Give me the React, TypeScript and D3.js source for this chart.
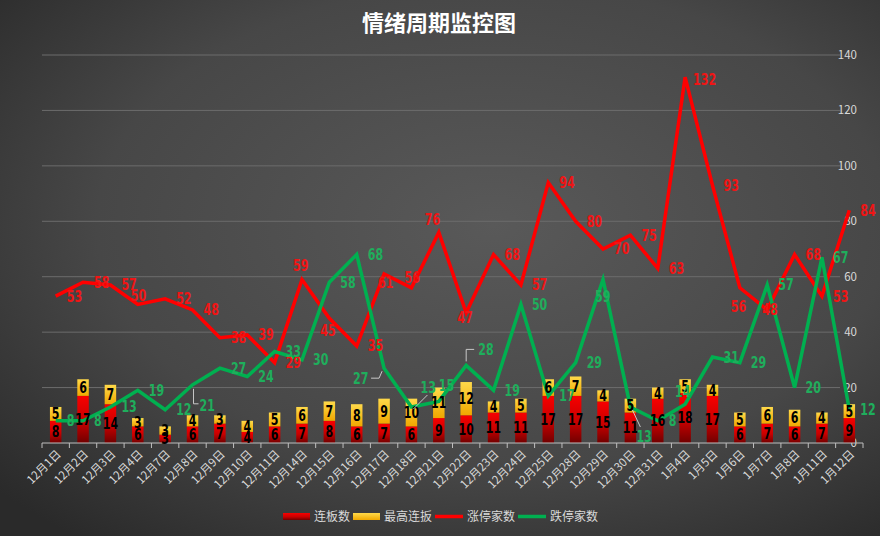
import * as d3 from "d3";

// 日期
const dates = [
  "12月1日", "12月2日", "12月3日", "12月4日", "12月7日", "12月8日", "12月9日", "12月10日",
  "12月11日", "12月14日", "12月15日", "12月16日", "12月17日", "12月18日", "12月21日", "12月22日",
  "12月23日", "12月24日", "12月25日", "12月28日", "12月29日", "12月30日", "12月31日",
  "1月4日", "1月5日", "1月6日", "1月7日", "1月8日", "1月11日", "1月12日",
];
// 连板数 / 最高连板 (stacked bars)
const lianban = [8, 17, 14, 6, 3, 6, 7, 4, 6, 7, 8, 6, 7, 6, 9, 10, 11, 11, 17, 17, 15, 11, 16, 18, 17, 6, 7, 6, 7, 9];
const zuigao = [5, 6, 7, 3, 3, 4, 3, 4, 5, 6, 7, 8, 9, 10, 11, 12, 4, 5, 6, 7, 4, 5, 4, 5, 4, 5, 6, 6, 4, 5];
// 涨停家数 / 跌停家数 (lines)
const zhangting = [53, 58, 57, 50, 52, 48, 38, 39, 29, 59, 45, 35, 61, 56, 76, 47, 68, 57, 94, 80, 70, 75, 63, 132, 93, 56, 48, 68, 53, 84];
const dieting = [8, 8, 13, 19, 12, 21, 27, 24, 33, 30, 58, 68, 27, 13, 15, 28, 19, 50, 17, 29, 59, 13, 8, 14, 31, 29, 57, 20, 67, 12];
const yTicks = [0, 20, 40, 60, 80, 100, 120, 140];

const width = 880;
const height = 536;
const left = 42;
const right = 863;
const bottom = 443;
const top = 55;

// label nudges (dx, dy from the point, start anchored)
const redNudge: Record<number, [number, number]> = {
  3: [-7, -9], 9: [-9, -14], 10: [-9, 12], 12: [-6, 9], 13: [-7, -10],
  14: [-14, -13], 15: [-9, 5], 23: [8, 2], 25: [-9, 19], 26: [-5, 0],
};
const greenNudge: Record<number, [number, number]> = {
  5: [7, 21], 12: [-31, 10], 13: [9, -19], 14: [0, -16], 15: [12, -16],
  20: [-8, 17], 21: [6, 30], 23: [-10, -13],
};
// leader lines, relative to the point
const greenLeader: Record<number, [number, number][]> = {
  5: [[1, 4], [1, 19], [6, 19]],
  12: [[-2, 3], [-5, 10], [-13, 10]],
  13: [[2, 2], [16, -12]],
  15: [[0, -4], [0, -16], [8, -16]],
  21: [[2, 3], [10, 20]],
};

const numFont = '"Liberation Sans Narrow", "DejaVu Sans Condensed", "Liberation Sans", Arial, sans-serif';
const cjkFont = '"Noto Sans CJK SC", "Noto Sans", sans-serif';

// 细长数字
const Num = ({x, y, fill, anchor, children}: {x: number; y: number; fill: string; anchor: string; children: number}) => (
  <text transform={`translate(${x},${y}) scale(0.82,1)`} dy="0.36em" fill={fill} textAnchor={anchor}
        fontFamily={numFont} fontWeight="bold" fontSize={15}>{children}</text>
);

const App = () => {
  const x = d3.scaleBand<string>().domain(dates).range([left, right]);
  const y = d3.scaleLinear().domain([0, 140]).range([bottom, top]);
  const cx = (i: number) => (x(dates[i]) ?? 0) + x.bandwidth() / 2;
  const barW = x.bandwidth() * 0.42;

  const line = d3.line<number>().x((_, i) => cx(i)).y(d => y(d));

  const legend = [
    {name: "连板数", kind: "bar", fill: "url(#gRed)", x: 283},
    {name: "最高连扳", kind: "bar", fill: "url(#gYellow)", x: 353},
    {name: "涨停家数", kind: "line", fill: "#ff0000", x: 435},
    {name: "跌停家数", kind: "line", fill: "#00b050", x: 518},
  ];

  return (
    <svg width={width} height={height} style={{position: "absolute", left: 0, top: 0}}>
      <defs>
        <radialGradient id="bg" cx="0.56" cy="0.42" r="0.75">
          <stop offset="0" stopColor="#595959"/>
          <stop offset="0.6" stopColor="#474747"/>
          <stop offset="1" stopColor="#2a2a2a"/>
        </radialGradient>
        <linearGradient id="gRed" x1="0" y1="0" x2="0" y2="1">
          <stop offset="0" stopColor="#f80000"/>
          <stop offset="0.55" stopColor="#c80000"/>
          <stop offset="1" stopColor="#700000"/>
        </linearGradient>
        <linearGradient id="gYellow" x1="0" y1="0" x2="0" y2="1">
          <stop offset="0" stopColor="#ffd94a"/>
          <stop offset="1" stopColor="#f0a800"/>
        </linearGradient>
      </defs>
      <rect width={width} height={height} fill="url(#bg)"/>

      {/* title */}
      <text x={439} y={31} textAnchor="middle" fill="#ffffff" fontSize={22} fontWeight="bold"
            fontFamily={cjkFont}>情绪周期监控图</text>

      {/* gridlines + y labels */}
      {yTicks.map(t => (
        <g key={t}>
          {t > 0 && <line x1={left} x2={840} y1={y(t)} y2={y(t)} stroke="#6c6c6c" strokeWidth={1}/>}
          <text x={857} y={y(t)} dy="0.35em" textAnchor="end" fill="#d9d9d9" fontSize={11.5}
                fontFamily={cjkFont}>{t}</text>
        </g>
      ))}

      {/* stacked bars */}
      {dates.map((d, i) => {
        const bx = cx(i) - barW / 2;
        return (
          <g key={d}>
            <rect x={bx} width={barW} y={y(lianban[i])} height={y(0) - y(lianban[i])} fill="url(#gRed)"/>
            <rect x={bx} width={barW} y={y(lianban[i] + zuigao[i])} height={y(lianban[i]) - y(lianban[i] + zuigao[i])}
                  fill="url(#gYellow)"/>
          </g>
        );
      })}

      {/* x axis */}
      <line x1={left} x2={right} y1={bottom} y2={bottom} stroke="#bfbfbf" strokeWidth={1}/>
      {d3.range(dates.length + 1).map(k => {
        const tx = left + k * x.bandwidth();
        return <line key={k} x1={tx} x2={tx} y1={bottom} y2={bottom + 5} stroke="#bfbfbf" strokeWidth={1}/>;
      })}
      {dates.map((d, i) => (
        <text key={d} transform={`translate(${cx(i) + 3},${bottom + 9}) rotate(-45)`} textAnchor="end"
              dy="0.35em" fill="#d9d9d9" fontSize={11.5} fontFamily={cjkFont}>{d}</text>
      ))}

      {/* lines */}
      <path d={line(zhangting) ?? ""} fill="none" stroke="#ff0000" strokeWidth={3.5} strokeLinejoin="miter"/>
      <path d={line(dieting) ?? ""} fill="none" stroke="#00b050" strokeWidth={3.5} strokeLinejoin="miter"/>

      {/* bar labels */}
      {dates.map((d, i) => (
        <g key={d}>
          <Num x={cx(i)} y={y(lianban[i] / 2)} fill="#000" anchor="middle">{lianban[i]}</Num>
          <Num x={cx(i)} y={y(lianban[i] + zuigao[i] / 2)} fill="#000" anchor="middle">{zuigao[i]}</Num>
        </g>
      ))}

      {/* leader lines */}
      {Object.entries(greenLeader).map(([k, pts]) => {
        const i = Number(k);
        const px = cx(i), py = y(dieting[i]);
        return <polyline key={k} points={pts.map(p => `${px + p[0]},${py + p[1]}`).join(" ")}
                         fill="none" stroke="#c8c8c8" strokeWidth={1}/>;
      })}

      {/* line labels */}
      {zhangting.map((v, i) => {
        const [dx, dy] = redNudge[i] ?? [11, 0];
        return <Num key={"r" + i} x={cx(i) + dx} y={y(v) + dy} fill="#f01515" anchor="start">{v}</Num>;
      })}
      {dieting.map((v, i) => {
        const [dx, dy] = greenNudge[i] ?? [11, 0];
        return <Num key={"g" + i} x={cx(i) + dx} y={y(v) + dy} fill="#1fae5c" anchor="start">{v}</Num>;
      })}

      {/* legend */}
      {legend.map(l => (
        <g key={l.name}>
          {l.kind === "bar"
            ? <rect x={l.x} y={513} width={27} height={7} fill={l.fill}/>
            : <line x1={l.x} x2={l.x + 28} y1={516.5} y2={516.5} stroke={l.fill} strokeWidth={3.5}/>}
          <text x={l.x + (l.kind === "bar" ? 31 : 32)} y={516.5} dy="0.36em" fill="#d9d9d9" fontSize={12}
                fontFamily={cjkFont}>{l.name}</text>
        </g>
      ))}
    </svg>
  );
};

export default App;
